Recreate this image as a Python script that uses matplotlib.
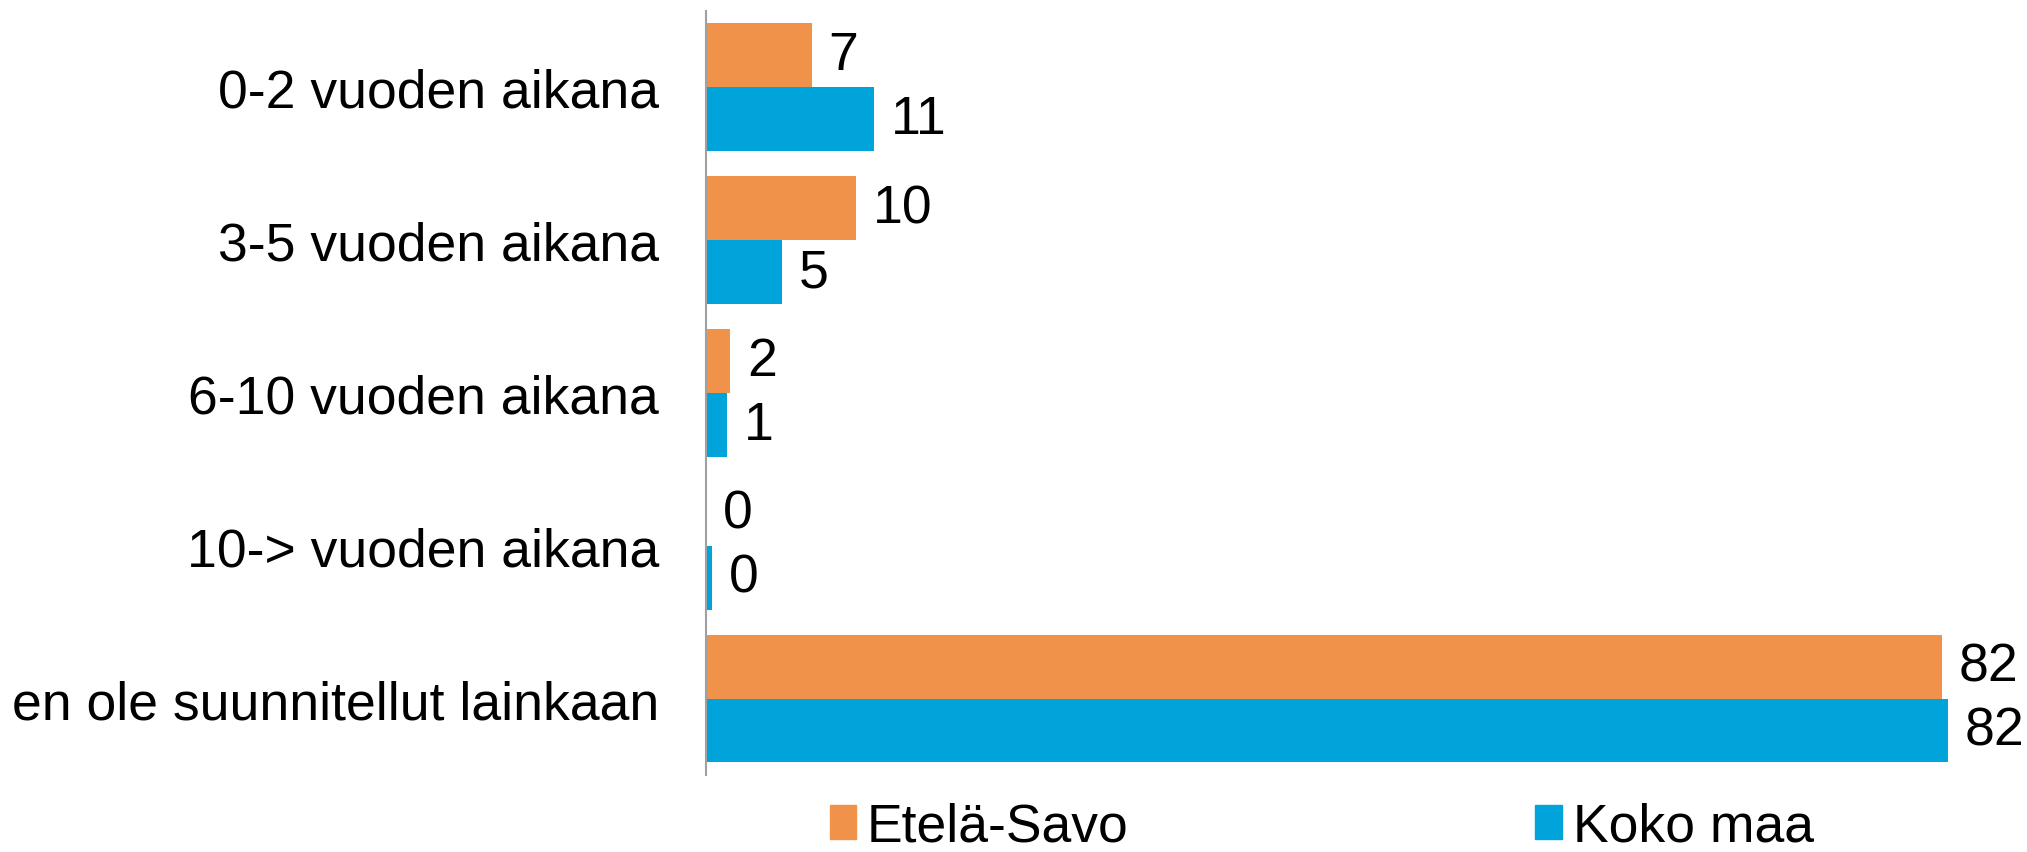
import numpy as np
import matplotlib
matplotlib.use('Agg')
import matplotlib.pyplot as plt
from matplotlib.patches import Patch

plt.rcParams['font.family'] = ['Liberation Sans', 'DejaVu Sans']

categories = ["0-2 vuoden aikana", "3-5 vuoden aikana", "6-10 vuoden aikana",
              "10-> vuoden aikana", "en ole suunnitellut lainkaan"]
etela_savo = [7.0, 9.9, 1.6, 0.0, 81.6]
koko_maa = [11.1, 5.0, 1.4, 0.4, 82.0]
series_names = ["Etelä-Savo", "Koko maa"]

ORANGE = '#F1924A'
BLUE = '#00A4DA'

fig = plt.figure(figsize=(20.27, 8.53), dpi=100)
ax = fig.add_axes([0.3483, 0.0903, 0.6428, 0.8957])

y = np.arange(len(categories))
h = 0.418
ax.barh(y - h/2, etela_savo, height=h, color=ORANGE)
ax.barh(y + h/2, koko_maa, height=h, color=BLUE)

fs = 38.5
for i in range(len(categories)):
    ax.annotate(f"{etela_savo[i]:.0f}", (etela_savo[i], y[i] - h/2), xytext=(12, 0),
                textcoords='offset points', va='center', ha='left', fontsize=fs,
                annotation_clip=False)
    ax.annotate(f"{koko_maa[i]:.0f}", (koko_maa[i], y[i] + h/2), xytext=(12, 0),
                textcoords='offset points', va='center', ha='left', fontsize=fs,
                annotation_clip=False)

ax.set_xlim(0, 86)
ax.set_ylim(4.5, -0.5)
ax.set_yticks(y)
ax.set_yticklabels(categories, fontsize=fs)
ax.tick_params(axis='y', length=0, pad=34)
ax.set_xticks([])
for s in ['top', 'right', 'bottom']:
    ax.spines[s].set_visible(False)
ax.spines['left'].set_color('#A0A0A0')
ax.spines['left'].set_linewidth(1.5)

handles = [Patch(color=ORANGE), Patch(color=BLUE)]
fig.legend(handles, series_names, loc='center', bbox_to_anchor=(0.652, 0.03),
           ncol=2, frameon=False, fontsize=fs, handlelength=0.5, handleheight=0.6,
           handletextpad=0.2, columnspacing=7.6)

fig.savefig('out.png', dpi=100)
